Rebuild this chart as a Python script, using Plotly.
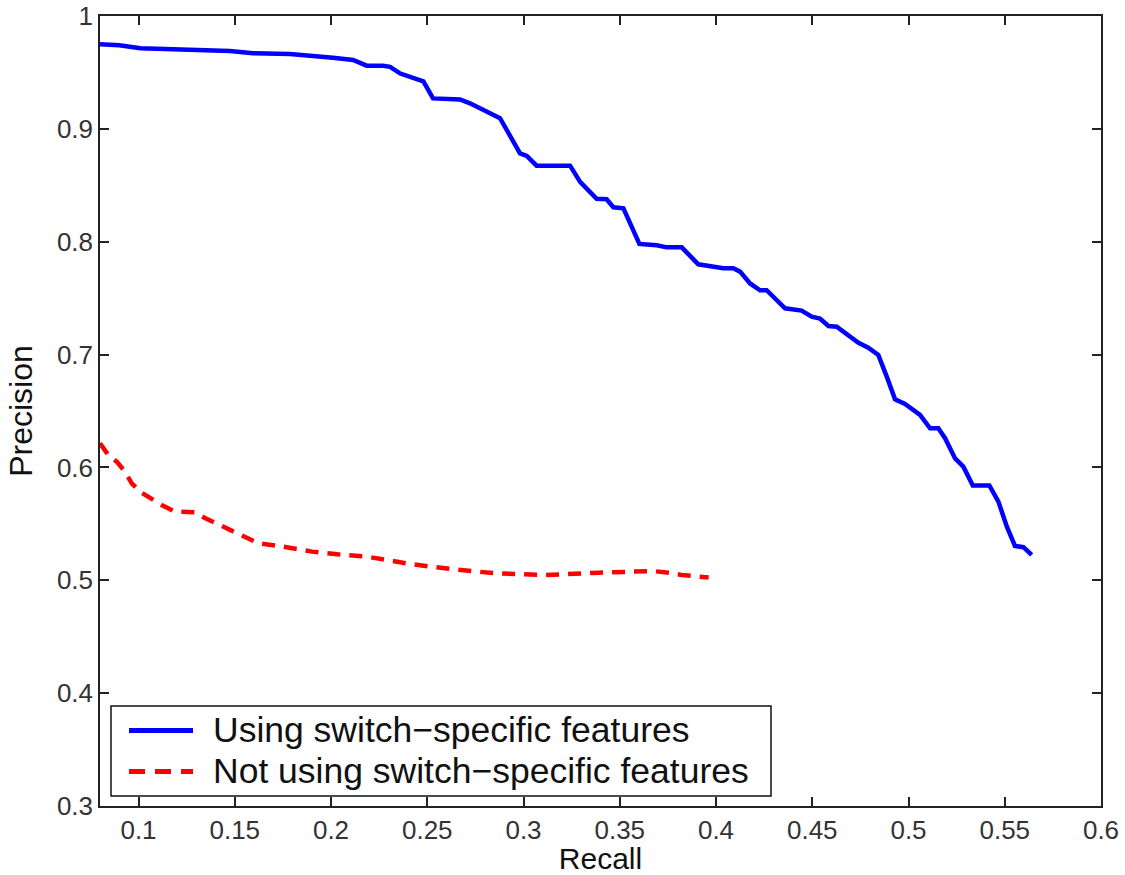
import plotly.graph_objects as go

# Precision/recall curves for the two feature sets
series_names = ["Using switch\u2212specific features", "Not using switch\u2212specific features"]

recall_switch = [0.080, 0.090, 0.101, 0.1475, 0.1595, 0.1787, 0.201, 0.2115, 0.2185, 0.227,
                 0.2307, 0.236, 0.248, 0.253, 0.267, 0.2722, 0.2878, 0.2982, 0.3017, 0.3068,
                 0.3242, 0.3294, 0.338, 0.3432, 0.3467, 0.3519, 0.3602, 0.3692, 0.3744, 0.3822,
                 0.3908, 0.3969, 0.4038, 0.409, 0.4125, 0.4177, 0.4229, 0.4263, 0.4359, 0.4445,
                 0.4497, 0.454, 0.4584, 0.4627, 0.474, 0.4791, 0.4843, 0.4887, 0.493, 0.4982,
                 0.506, 0.5112, 0.5155, 0.519, 0.5242, 0.5285, 0.5334, 0.542, 0.5467, 0.5511,
                 0.5553, 0.5597, 0.564]
precision_switch = [0.975, 0.974, 0.9714, 0.969, 0.967, 0.9663, 0.963, 0.961, 0.956, 0.956,
                    0.955, 0.949, 0.942, 0.927, 0.926, 0.9226, 0.9094, 0.8783, 0.876, 0.8674,
                    0.8674, 0.853, 0.838, 0.8376, 0.8305, 0.8296, 0.798, 0.7968, 0.795, 0.795,
                    0.780, 0.778, 0.7765, 0.7765, 0.7735, 0.763, 0.757, 0.757, 0.741, 0.739,
                    0.7336, 0.732, 0.7253, 0.7247, 0.7105, 0.7061, 0.6996, 0.6804, 0.6604, 0.6562,
                    0.6465, 0.6347, 0.6347, 0.6259, 0.608, 0.6007, 0.584, 0.584, 0.5697, 0.5475,
                    0.5304, 0.5293, 0.5225]

recall_base = [0.080, 0.0843, 0.0887, 0.093, 0.0965, 0.1008, 0.1077, 0.112, 0.119, 0.1293,
               0.1345, 0.1515, 0.1623, 0.1731, 0.1903, 0.2033, 0.2184, 0.2421, 0.2636, 0.2852,
               0.3111, 0.3391, 0.3671, 0.3757, 0.3822, 0.3962]
precision_base = [0.6214, 0.611, 0.6051, 0.5962, 0.5859, 0.5785, 0.5712, 0.5667, 0.5608, 0.5603,
                  0.5552, 0.5417, 0.5328, 0.5304, 0.5254, 0.523, 0.521, 0.5142, 0.5097, 0.5062,
                  0.5047, 0.5067, 0.5082, 0.5067, 0.5047, 0.5024]

x_ticks = [0.1, 0.15, 0.2, 0.25, 0.3, 0.35, 0.4, 0.45, 0.5, 0.55, 0.6]
x_tick_text = ["0.1", "0.15", "0.2", "0.25", "0.3", "0.35", "0.4", "0.45", "0.5", "0.55", "0.6"]
y_ticks = [0.3, 0.4, 0.5, 0.6, 0.7, 0.8, 0.9, 1.0]
y_tick_text = ["0.3", "0.4", "0.5", "0.6", "0.7", "0.8", "0.9", "1"]

colors = ["#0000ff", "#ff0000"]
dashes = ["solid", "13px,9px"]
FONT = "Liberation Sans, Arial, sans-serif"

fig = go.Figure()
fig.add_trace(go.Scatter(x=recall_switch, y=precision_switch, mode="lines", name=series_names[0],
                         line=dict(color=colors[0], width=4.5, dash=dashes[0]), showlegend=False))
fig.add_trace(go.Scatter(x=recall_base, y=precision_base, mode="lines", name=series_names[1],
                         line=dict(color=colors[1], width=4.5, dash=dashes[1]), showlegend=False))

W, H = 1125, 875
L, R, T, B = 100, 24, 16, 69
pw, ph = W - L - R, H - T - B


def px_x(p):
    return (p - L) / pw


def px_y(p):
    return (H - B - p) / ph


# Boxed legend in the lower-left corner
shapes = [dict(type="rect", xref="paper", yref="paper",
               x0=px_x(111), x1=px_x(771), y0=px_y(796), y1=px_y(706),
               line=dict(color="#111111", width=1.5), fillcolor="white", layer="above")]
annotations = []
for i, (name, ypix) in enumerate(zip(series_names, [730.5, 771.5])):
    shapes.append(dict(type="line", xref="paper", yref="paper",
                       x0=px_x(129), x1=px_x(193), y0=px_y(ypix), y1=px_y(ypix),
                       line=dict(color=colors[i], width=5, dash="solid" if i == 0 else "16px,10px"),
                       layer="above"))
    annotations.append(dict(xref="paper", yref="paper", x=px_x(211), y=px_y(ypix - 1),
                            xanchor="left", yanchor="middle", text=name, showarrow=False,
                            font=dict(family=FONT, size=35.5, color="#111111")))

axis_common = dict(showline=True, mirror="allticks", linecolor="#222222", linewidth=1.5,
                   ticks="inside", ticklen=9, tickwidth=1.5, tickcolor="#222222",
                   showgrid=False, zeroline=False, automargin=False,
                   tickfont=dict(family=FONT, size=26, color="#333333"))

fig.update_layout(
    width=W, height=H,
    margin=dict(l=L, r=R, t=T, b=B),
    paper_bgcolor="white", plot_bgcolor="white",
    xaxis=dict(range=[0.08, 0.6], tickvals=x_ticks, ticktext=x_tick_text,
               title=dict(text="Recall", font=dict(family=FONT, size=30, color="#111111")),
               **axis_common),
    yaxis=dict(range=[0.3, 1.0], tickvals=y_ticks, ticktext=y_tick_text,
               title=dict(text="Precision", font=dict(family=FONT, size=32, color="#111111")),
               **axis_common),
    shapes=shapes,
    annotations=annotations,
)

fig.write_html("out.html")
